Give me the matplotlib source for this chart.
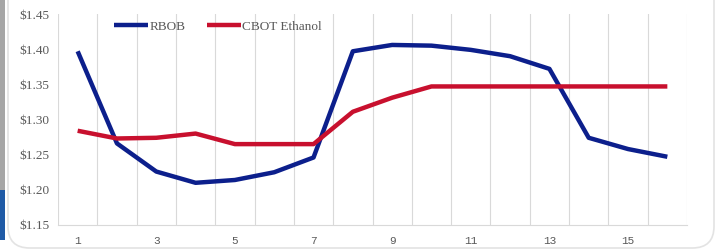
import matplotlib
matplotlib.use("Agg")
import matplotlib.pyplot as plt
from matplotlib.patches import Rectangle, FancyBboxPatch
from matplotlib.ticker import FuncFormatter

periods = list(range(1, 17))
rbob = [1.397, 1.266, 1.226, 1.210, 1.214, 1.225, 1.246, 1.397,
        1.406, 1.405, 1.399, 1.390, 1.372, 1.274, 1.258, 1.247]
ethanol = [1.284, 1.273, 1.274, 1.280, 1.265, 1.265, 1.265, 1.311,
           1.331, 1.347, 1.347, 1.347, 1.347, 1.347, 1.347, 1.347]
xtick_labels = [1, 3, 5, 7, 9, 11, 13, 15]
yticks = [1.15, 1.20, 1.25, 1.30, 1.35, 1.40, 1.45]

W, H = 722, 252
fig = plt.figure(figsize=(W / 100, H / 100), dpi=100)
fig.patch.set_facecolor("white")

# decorative panel elements
fig.patches.append(Rectangle((0, 1 - 190 / H), 5 / W, 190 / H, transform=fig.transFigure,
                             facecolor="#a6a6a6", edgecolor="none"))
fig.patches.append(Rectangle((0, 1 - 240 / H), 5 / W, 50 / H, transform=fig.transFigure,
                             facecolor="#1f5aa6", edgecolor="none"))
fig.patches.append(FancyBboxPatch((8 / W, 4 / H), 706 / W, 300 / H,
                                  boxstyle="round,pad=0,rounding_size=0.03",
                                  transform=fig.transFigure, facecolor="none",
                                  edgecolor="#e3e3e3", linewidth=1.2, mutation_aspect=W / H))

ax = fig.add_axes([58 / W, 1 - 225 / H, (687 - 58) / W, (225 - 14) / H])
ax.plot(periods, rbob, color="#0c1f8c", lw=3.2, label="RBOB", solid_capstyle="butt", zorder=3)
ax.plot(periods, ethanol, color="#c8102e", lw=3.2, label="CBOT Ethanol", solid_capstyle="butt", zorder=3)

ax.set_xlim(0.5, 16.5)
ax.set_ylim(1.15, 1.45)
ax.set_xticks(xtick_labels)
ax.set_yticks(yticks)
ax.yaxis.set_major_formatter(FuncFormatter(lambda v, p: f"${v:.2f}"))

for b in [i + 0.5 for i in range(0, 17)]:
    ax.axvline(b, color="#d9d9d9", lw=0.8, zorder=1)

for s in ["top", "right", "left"]:
    ax.spines[s].set_visible(False)
ax.spines["bottom"].set_color("#d9d9d9")
ax.spines["bottom"].set_linewidth(0.8)
ax.tick_params(axis="both", length=0, colors="#595959")
ax.tick_params(axis="y", pad=6)
ax.tick_params(axis="x", pad=8)
for lbl in ax.get_yticklabels():
    lbl.set_fontfamily("Liberation Serif")
    lbl.set_fontsize(9.5)
for lbl in ax.get_xticklabels():
    lbl.set_fontfamily("Liberation Mono")
    lbl.set_fontsize(8)

leg = ax.legend(loc="upper left", bbox_to_anchor=(0.07, 1.025), ncol=2, frameon=False,
                handlelength=2.6, handletextpad=0.1, columnspacing=1.6,
                prop={"family": "Liberation Serif", "size": 9.5})
for t in leg.get_texts():
    t.set_color("#595959")

fig.savefig("out.png", dpi=100)
